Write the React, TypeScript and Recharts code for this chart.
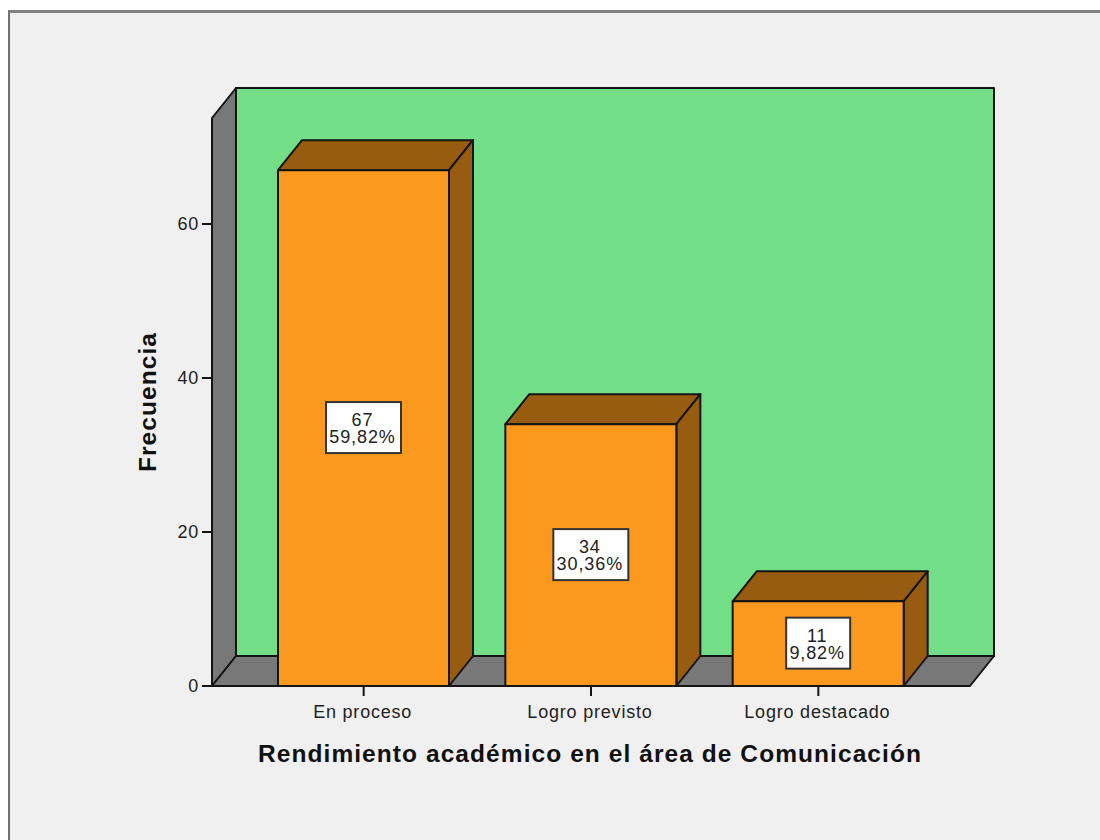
// Rendimiento académico: 3D-look bar chart (SPSS style)
import { BarChart, Bar, XAxis, YAxis, ReferenceArea, LabelList } from 'recharts';

const CATEGORIES = ['En proceso', 'Logro previsto', 'Logro destacado'];
const FREQUENCIES = [67, 34, 11];
const PERCENTAGES = ['59,82%', '30,36%', '9,82%'];
const Y_TICKS = [0, 20, 40, 60];

const data = CATEGORIES.map((name, i) => ({ name, value: FREQUENCIES[i], pct: PERCENTAGES[i] }));

const DEPTH_X = 24;
const DEPTH_Y = 30;
const AXIS_PAD = 38;
const INK = '#141414';
const FONT = '"Liberation Sans", Arial, sans-serif';
const TEXT = '#222';

function Walls(props: any) {
  const left = props.x - AXIS_PAD;
  const right = props.x + props.width + AXIS_PAD;
  const top = props.y;
  const bottom = props.y + props.height;
  const line = { stroke: INK, strokeWidth: 2, strokeLinejoin: 'round' as const };
  return (
    <g>
      <rect x={left + DEPTH_X} y={top - DEPTH_Y} width={right - left} height={bottom - top} fill="#72df88" {...line} />
      <polygon
        points={`${left},${top} ${left + DEPTH_X},${top - DEPTH_Y} ${left + DEPTH_X},${bottom - DEPTH_Y} ${left},${bottom}`}
        fill="#787878"
        {...line}
      />
      <polygon
        points={`${left},${bottom} ${left + DEPTH_X},${bottom - DEPTH_Y} ${right + DEPTH_X},${bottom - DEPTH_Y} ${right},${bottom}`}
        fill="#787878"
        {...line}
      />
    </g>
  );
}

function Bar3D(props: any) {
  const { x, y, width, height } = props;
  const line = { stroke: INK, strokeWidth: 2, strokeLinejoin: 'round' as const };
  return (
    <g>
      <polygon
        points={`${x},${y} ${x + DEPTH_X},${y - DEPTH_Y} ${x + width + DEPTH_X},${y - DEPTH_Y} ${x + width},${y}`}
        fill="#985c10"
        {...line}
      />
      <polygon
        points={`${x + width},${y} ${x + width + DEPTH_X},${y - DEPTH_Y} ${x + width + DEPTH_X},${y + height - DEPTH_Y} ${x + width},${y + height}`}
        fill="#985c10"
        {...line}
      />
      <rect x={x} y={y} width={width} height={height} fill="#fb991e" {...line} />
    </g>
  );
}

function ValueBox(props: any) {
  const { x, y, width, height, index } = props;
  const cx = x + width / 2;
  const cy = y + height / 2;
  const pct = PERCENTAGES[index];
  const boxW = pct.length > 5 ? 75 : 64;
  return (
    <g fontFamily={FONT} fontSize={18} letterSpacing={0.9} fill={TEXT} textAnchor="middle">
      <rect x={cx - boxW / 2} y={cy - 26} width={boxW} height={51} fill="#fff" stroke="#333" strokeWidth={2} />
      <text x={cx - 1} y={cy - 2}>
        <tspan x={cx - 1}>{FREQUENCIES[index]}</tspan>
        <tspan x={cx - 1} dy={17}>{pct}</tspan>
      </text>
    </g>
  );
}

// rotated axis title, centred on the plot height
function YTitle(props: any) {
  const { viewBox } = props;
  const cx = viewBox.x + 16;
  const cy = viewBox.y + viewBox.height / 2;
  return (
    <text
      x={cx}
      y={cy}
      dy={8}
      transform={`rotate(-90 ${cx} ${cy})`}
      textAnchor="middle"
      fontFamily={FONT}
      fontSize={24.5}
      fontWeight={700}
      letterSpacing={1.07}
      fill="#111"
    >
      Frecuencia
    </text>
  );
}

export default function App() {
  return (
    <div style={{ position: 'absolute', left: 0, top: 0, width: 1100, height: 840, background: '#fff', overflow: 'hidden' }}>
      <div
        style={{
          position: 'absolute',
          left: 8,
          top: 10,
          width: 1100,
          height: 840,
          background: '#f0f0f0',
          borderTop: '3px solid #808080',
          borderLeft: '2px solid #707070',
        }}
      />
      <div style={{ position: 'absolute', left: 0, top: 0 }}>
        <BarChart
          width={1100}
          height={840}
          data={data}
          margin={{ top: 118, right: 130, bottom: 74, left: 132 }}
          barSize={171}
        >
          <XAxis
            dataKey="name"
            height={80}
            padding={{ left: AXIS_PAD, right: AXIS_PAD }}
            tickLine={{ stroke: INK, strokeWidth: 2 }}
            tickSize={10}
            tickMargin={9}
            axisLine={{ stroke: INK, strokeWidth: 2 }}
            tick={{ fill: TEXT, fontSize: 18, fontFamily: FONT, letterSpacing: 0.8, dx: -1 }}
            interval={0}
            label={{
              value: 'Rendimiento académico en el área de Comunicación',
              position: 'insideBottom',
              offset: 4,
              dx: -1,
              fill: '#111',
              fontSize: 24.5,
              fontWeight: 700,
              fontFamily: FONT,
              letterSpacing: 1.07,
            }}
          />
          <YAxis
            domain={[0, 73.77]}
            ticks={Y_TICKS}
            width={80}
            tickLine={{ stroke: INK, strokeWidth: 2 }}
            tickSize={10}
            tickMargin={3}
            axisLine={{ stroke: INK, strokeWidth: 2 }}
            tick={{ fill: TEXT, fontSize: 18, fontFamily: FONT, letterSpacing: 0.8 }}
            label={{ content: <YTitle /> }}
          />
          <ReferenceArea shape={<Walls />} ifOverflow="visible" />
          <Bar dataKey="value" shape={<Bar3D />} isAnimationActive={false}>
            <LabelList dataKey="value" content={<ValueBox />} />
          </Bar>
        </BarChart>
      </div>
    </div>
  );
}
